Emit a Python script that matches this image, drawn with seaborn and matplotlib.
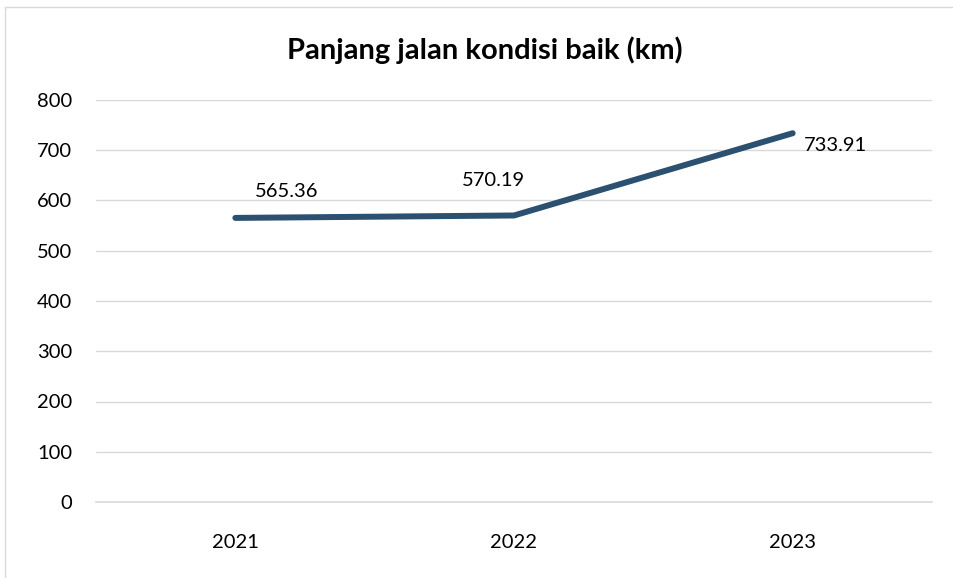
import matplotlib
matplotlib.use("Agg")
import matplotlib.pyplot as plt
import seaborn as sns
import pandas as pd
from matplotlib.lines import Line2D

years = ["2021", "2022", "2023"]
values = [565.36, 570.19, 733.91]
label_texts = ["565.36", "570.19", "733.91"]
title = "Panjang jalan kondisi baik (km)"
yticks = [0, 100, 200, 300, 400, 500, 600, 700, 800]

sns.set_theme(style="white")
plt.rcParams['font.family'] = ['Lato', 'DejaVu Sans']

df = pd.DataFrame({"year": years, "value": values})

fig = plt.figure(figsize=(9.54, 5.78), dpi=100)
ax = fig.add_axes([96/954, 76/578, (932-96)/954, (502-100)/578])

line_color = "#2B5070"
grid_color = "#D9D9D9"
fs = 14.5

sns.lineplot(data=df, x="year", y="value", ax=ax, color=line_color,
             linewidth=4.3, solid_capstyle="round", sort=False)

ax.set_xlim(-0.5, 2.5)
ax.set_ylim(0, 800)
ax.set_yticks(yticks)
ax.set_yticklabels([str(t) for t in yticks], fontsize=fs, color="#000000")
ax.set_xticks([0, 1, 2])
ax.set_xticklabels(years, fontsize=fs, color="#000000")
ax.set_xticks([-0.5, 0.5, 1.5, 2.5], minor=True)
ax.tick_params(axis="x", which="major", length=0, pad=23)
ax.tick_params(axis="x", which="minor", length=6, width=1.2, color=grid_color)
ax.tick_params(axis="y", length=0, pad=17)
ax.set_xlabel("")
ax.set_ylabel("")

ax.grid(axis="y", color=grid_color, linewidth=1.0)
ax.grid(axis="x", visible=False)
ax.set_axisbelow(True)
for s in ["top", "right", "left"]:
    ax.spines[s].set_visible(False)
ax.spines["bottom"].set_color(grid_color)
ax.spines["bottom"].set_linewidth(1.2)

offsets = [(37, 19), (-15, 25), (31, -9)]
for i, (v, t) in enumerate(zip(values, label_texts)):
    ax.annotate(t, (i, v), xytext=offsets[i], textcoords="offset points",
                ha="center", va="center", fontsize=fs, color="#000000")

fig.text(485/954, 1 - 50/578, title, ha="center", va="center",
         fontsize=21, fontweight="bold", color="#000000")

# chart border (top and left)
fig.add_artist(Line2D([5/954, 5/954], [0, 1 - 7/578], transform=fig.transFigure,
                      color="#D9D9D9", linewidth=1.0))
fig.add_artist(Line2D([5/954, 1], [1 - 7/578, 1 - 7/578], transform=fig.transFigure,
                      color="#D9D9D9", linewidth=1.0))

fig.savefig("out.png", dpi=100, facecolor="white")
